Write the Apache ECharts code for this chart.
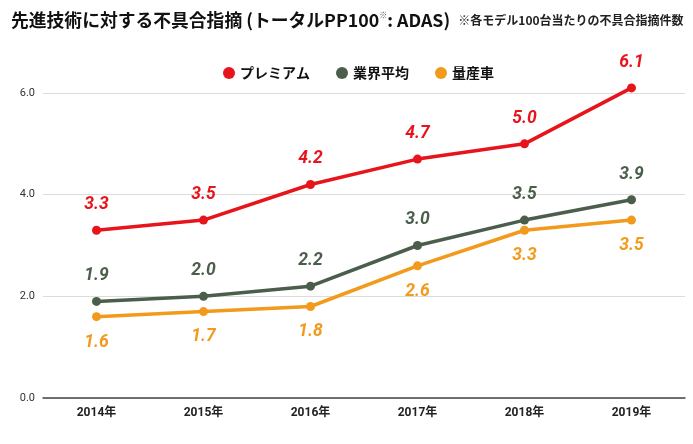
<!DOCTYPE html>
<html><head><meta charset="utf-8">
<script src="https://cdn.jsdelivr.net/npm/echarts@6/dist/echarts.min.js"></script>
<style>html,body{margin:0;padding:0;background:#fff}#c{width:693px;height:444px}</style>
</head><body><div id="c"></div>
<script>
const categories = ['2014年','2015年','2016年','2017年','2018年','2019年'];
const premium = [3.3, 3.5, 4.2, 4.7, 5.0, 6.1];
const industryAvg = [1.9, 2.0, 2.2, 3.0, 3.5, 3.9];
const massMarket = [1.6, 1.7, 1.8, 2.6, 3.3, 3.5];
const seriesNames = ['プレミアム','業界平均','量産車'];
const colors = ['#e8141c','#4b5e4b','#f29a1c'];
const yTicks = [0, 2, 4, 6];

const font = '"Noto Sans CJK JP", "Noto Sans", sans-serif';
const chart = echarts.init(document.getElementById('c'));
function mk(name, data, color, pos) {
  return {
    name, type: 'line', data, color, clip: false,
    symbol: 'circle', symbolSize: 9,
    lineStyle: { width: 3.5, color },
    itemStyle: { color },
    label: {
      show: true, position: pos, distance: 12,
      formatter: p => p.value.toFixed(1),
      color, fontSize: 17.5, fontWeight: 'bold', fontStyle: 'italic',
      fontFamily: 'Roboto, "Noto Sans", sans-serif'
    }
  };
}
chart.setOption({
  animation: false,
  textStyle: { fontFamily: font },
  title: {
    left: 6, top: 6,
    text: '{a|先進技術に対する不具合指摘 (トータルPP100}{s|※}{a|: ADAS)}  {b|※各モデル100台当たりの不具合指摘件数}',
    textStyle: {
      rich: {
        a: { fontSize: 17.8, fontWeight: 'bold', color: '#111', fontFamily: font },
        s: { fontSize: 8, color: '#555', verticalAlign: 'top', fontFamily: font, padding: [0,0,8,0] },
        b: { fontSize: 12, color: '#222', fontFamily: font }
      }
    }
  },
  legend: {
    left: 218, top: 61,
    icon: 'circle', itemWidth: 12, itemHeight: 12, itemGap: 26,
    textStyle: { fontSize: 14, fontWeight: 'bold', color: '#111', fontFamily: font },
    data: seriesNames
  },
  grid: { left: 43, right: 8, top: 93, bottom: 46, containLabel: false },
  xAxis: {
    type: 'category', data: categories, boundaryGap: true,
    axisLine: { lineStyle: { color: '#444', width: 1.5 } },
    axisTick: { alignWithLabel: true, length: 8, lineStyle: { color: '#444' } },
    axisLabel: { color: '#222', fontSize: 12, fontWeight: 'bold', margin: 9, fontFamily: 'Roboto, "Noto Sans CJK JP", sans-serif' }
  },
  yAxis: {
    type: 'value', min: yTicks[0], max: yTicks[yTicks.length-1], interval: 2,
    axisLine: { show: false }, axisTick: { show: false },
    axisLabel: { formatter: v => v.toFixed(1), color: '#333', fontSize: 11, margin: 8, fontFamily: 'Roboto, sans-serif' },
    splitLine: { lineStyle: { color: '#dcdcdc', width: 1 } }
  },
  series: [
    mk(seriesNames[0], premium, colors[0], 'top'),
    mk(seriesNames[1], industryAvg, colors[1], 'top'),
    mk(seriesNames[2], massMarket, colors[2], 'bottom')
  ]
});
</script></body></html>
